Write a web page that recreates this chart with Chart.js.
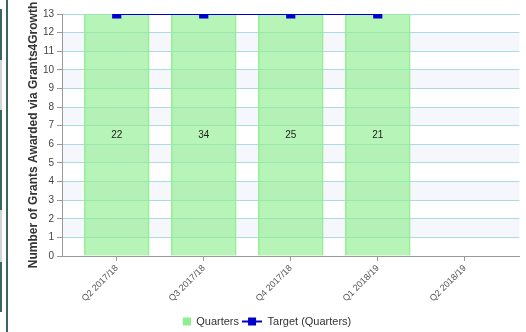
<!DOCTYPE html>
<html>
<head>
<meta charset="utf-8">
<script src="https://cdn.jsdelivr.net/npm/chart.js@4/dist/chart.umd.min.js"></script>
<style>
  html, body { margin: 0; padding: 0; background: #fff; }
  #wrap { position: relative; width: 526px; height: 332px; overflow: hidden; }
  canvas { position: absolute; left: 0; top: 0; }
  .deco { position: absolute; }
</style>
</head>
<body>
<div id="wrap">
  <canvas id="c" width="526" height="332"></canvas>
  <div class="deco" style="left:6px;top:0;width:2px;height:332px;background:#3b6464"></div>
  <div class="deco" style="left:0;top:9px;width:2px;height:51px;background:#3b6464"></div>
  <div class="deco" style="left:0;top:60px;width:2px;height:50px;background:#d0d4d4"></div>
  <div class="deco" style="left:0;top:110px;width:2px;height:100px;background:#3b6464"></div>
  <div class="deco" style="left:0;top:210px;width:2px;height:52px;background:#d0d4d4"></div>
  <div class="deco" style="left:0;top:262px;width:2px;height:50px;background:#3b6464"></div>
</div>
<script>
const categories = ["Q2 2017/18", "Q3 2017/18", "Q4 2017/18", "Q1 2018/19", "Q2 2018/19"];
const quarters = [22, 34, 25, 21, null];
const target = [13, 13, 13, 13, null];
const yTicks = [0,1,2,3,4,5,6,7,8,9,10,11,12,13];

const FONT = "'Liberation Sans', Arial, sans-serif";
const BLUE = '#0000cc';

function makeIcon(w, h, draw) {
  const cv = document.createElement('canvas');
  cv.width = w; cv.height = h;
  draw(cv.getContext('2d'));
  return cv;
}
const iconQuarters = makeIcon(20, 10, g => { g.fillStyle = '#90ee90'; g.fillRect(12, 1, 8, 8); });
const iconTarget = makeIcon(20, 10, g => {
  g.fillStyle = BLUE; g.fillRect(0, 4, 20, 2); g.fillRect(6, 1, 8, 8);
});

const bands = {
  id: 'bands',
  beforeDraw(chart) {
    const { ctx, chartArea: a, scales: { y } } = chart;
    ctx.save();
    ctx.fillStyle = '#f5f7fc';
    for (let k = 1; k < 13; k += 2) {
      const t = y.getPixelForValue(k + 1), b = y.getPixelForValue(k);
      ctx.fillRect(a.left, t, a.right - a.left, b - t);
    }
    ctx.restore();
  }
};

const valueLabels = {
  id: 'valueLabels',
  afterDatasetsDraw(chart) {
    const { ctx, scales: { y } } = chart;
    const meta = chart.getDatasetMeta(0);
    ctx.save();
    ctx.font = "10px " + FONT;
    ctx.fillStyle = '#222';
    ctx.textAlign = 'center';
    ctx.textBaseline = 'middle';
    meta.data.forEach((el, i) => {
      const v = quarters[i];
      if (v == null) return;
      const top = y.getPixelForValue(Math.min(v, y.max));
      const base = y.getPixelForValue(0);
      ctx.fillText(String(v), el.x, (top + base) / 2);
    });
    ctx.restore();
  }
};

new Chart(document.getElementById('c'), {
  data: {
    labels: categories.map((_, i) => i),
    datasets: [
      {
        type: 'bar', label: 'Quarters',
        data: quarters.map((v, i) => ({ x: i, y: v })),
        backgroundColor: 'rgba(144,238,144,0.65)',
        borderColor: 'rgba(144,238,144,0.9)',
        borderWidth: { left: 1, right: 1, top: 0, bottom: 0 },
        barThickness: 65,
        clip: 0, order: 2
      },
      {
        type: 'line', label: 'Target (Quarters)',
        data: target.map((v, i) => ({ x: i, y: v })),
        borderColor: BLUE, backgroundColor: BLUE, borderWidth: 2,
        pointStyle: 'rect', pointRadius: 6.5, pointBackgroundColor: BLUE, pointBorderColor: BLUE,
        pointBorderWidth: 0, tension: 0, clip: 0, order: 1
      }
    ]
  },
  options: {
    responsive: false, animation: false, events: [],
    layout: { padding: { top: 14, right: 4, left: 0, bottom: -5 } },
    plugins: {
      tooltip: { enabled: false },
      legend: {
        position: 'bottom',
        labels: {
          font: { family: FONT, size: 11 }, color: '#333', padding: 3,
          usePointStyle: true, pointStyleWidth: 20, boxHeight: 10,
          generateLabels(chart) {
            return chart.data.datasets.map((ds, i) => ({
              text: ds.label, datasetIndex: i, hidden: false,
              pointStyle: i === 0 ? iconQuarters : iconTarget,
              fillStyle: 'transparent', strokeStyle: 'transparent', lineWidth: 0, fontColor: '#333'
            }));
          }
        }
      }
    },
    scales: {
      x: {
        type: 'linear', min: -0.629, max: 4.629, offset: false,
        afterBuildTicks(s) { s.ticks = categories.map((_, i) => ({ value: i })); },
        afterFit(s) { s.height = 57; },
        ticks: {
          autoSkip: false, maxRotation: 45, minRotation: 45, padding: 2,
          font: { family: FONT, size: 9 }, color: '#555',
          callback: (v) => categories[v] ?? ''
        },
        grid: { offset: false, drawOnChartArea: false, tickLength: 5, tickColor: '#999' },
        border: { color: '#999', width: 1 }
      },
      y: {
        min: 0, max: 13,
        afterBuildTicks(s) { s.ticks = yTicks.map(v => ({ value: v })); },
        afterFit(s) { s.width = 62; },
        ticks: { padding: 3, font: { family: FONT, size: 10 }, color: '#444' },
        grid: { color: '#abdbe4', lineWidth: 1, tickLength: 5, tickColor: '#999' },
        border: { color: '#999', width: 1 },
        title: {
          display: true, text: 'Number of Grants Awarded via Grants4Growth',
          font: { family: FONT, size: 12, weight: 'bold' }, color: '#333',
          padding: { top: 26, bottom: 0 }
        }
      }
    }
  },
  plugins: [bands, valueLabels]
});
</script>
</body>
</html>
